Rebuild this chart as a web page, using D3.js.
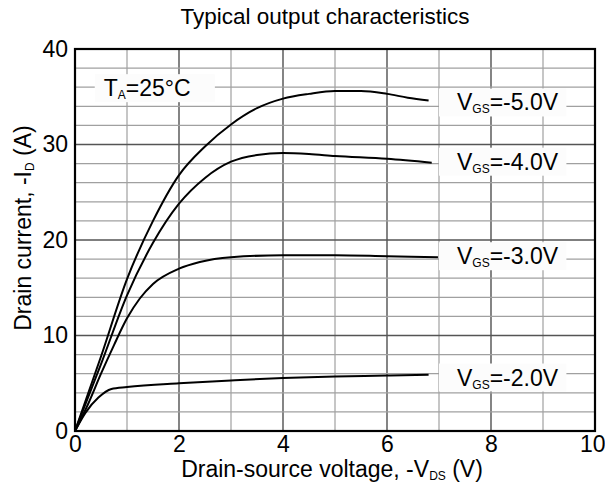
<!DOCTYPE html>
<html>
<head>
<meta charset="utf-8">
<script src="https://cdn.jsdelivr.net/npm/d3@7"></script>
<style>
  body { margin: 0; background: #fff; }
  svg { font-family: "Liberation Sans", Arial, sans-serif; }
</style>
</head>
<body>
<div class="App"></div>
<script>
// curve data, -VDS (V) vs -ID (A)
let vds5 = [0, 0.5, 1.0, 1.5, 2.0, 2.5, 3.0, 3.5, 4.0, 4.5, 5.0, 5.5, 6.0, 6.4, 6.8];
let id5  = [0, 7.8, 15.9, 22.0, 26.8, 29.8, 32.1, 33.8, 34.8, 35.3, 35.6, 35.6, 35.3, 34.9, 34.6];

let vds4 = [0, 0.5, 1.0, 1.5, 2.0, 2.5, 3.0, 3.5, 4.0, 4.5, 5.0, 6.0, 6.86];
let id4  = [0, 7.0, 14.2, 19.7, 23.8, 26.5, 28.2, 28.9, 29.1, 29.0, 28.8, 28.5, 28.1];

let vds3 = [0, 0.25, 0.5, 0.75, 1.0, 1.25, 1.5, 2.0, 2.4, 3.0, 4.0, 5.0, 6.0, 6.98];
let id3  = [0, 2.8, 6.0, 9.0, 11.8, 13.9, 15.4, 17.0, 17.7, 18.2, 18.4, 18.4, 18.3, 18.2];

let vds2 = [0, 0.2, 0.45, 0.7, 1.0, 2.0, 3.0, 4.0, 5.0, 6.0, 6.8];
let id2  = [0, 1.9, 3.5, 4.4, 4.6, 5.0, 5.3, 5.55, 5.7, 5.8, 5.9];

let seriesNames = ["-5.0V", "-4.0V", "-3.0V", "-2.0V"];
let xTicks = [0, 2, 4, 6, 8, 10];
let yTicks = [0, 10, 20, 30, 40];

let width = 605, height = 488;
let margin = { left: 75, top: 49, right: 10, bottom: 57 };
let w = width - margin.left - margin.right,
    h = height - margin.top - margin.bottom;

let svg = d3.select(".App").append("svg")
  .attr("width", width)
  .attr("height", height);

let g = svg.append("g")
  .attr("transform", "translate(" + margin.left + "," + margin.top + ")");

let x = d3.scaleLinear().domain([0, 10]).range([0, w]);
let y = d3.scaleLinear().domain([0, 40]).range([h, 0]);

// grid
g.selectAll(".vgrid")
  .data(d3.range(1, 10))
  .enter().append("line")
  .attr("x1", d => x(d)).attr("x2", d => x(d))
  .attr("y1", 0).attr("y2", h)
  .attr("stroke", d => d % 2 === 0 ? "#333" : "#a0a0a0")
  .attr("stroke-width", 1.2);

g.selectAll(".hgrid")
  .data(d3.range(2, 40, 2))
  .enter().append("line")
  .attr("x1", 0).attr("x2", w)
  .attr("y1", d => y(d)).attr("y2", d => y(d))
  .attr("stroke", d => d % 10 === 0 ? "#555" : "#a0a0a0")
  .attr("stroke-width", d => d % 10 === 0 ? 1.6 : 1.2);

// label boxes (drawn over the grid)
let boxes = [
  { name: "TA", v: 0.38, i: 35.9, len: 2.31 },
  { name: seriesNames[0], v: 7.0, i: 34.4, len: 2.45 },
  { name: seriesNames[1], v: 7.0, i: 28.2, len: 2.45 },
  { name: seriesNames[2], v: 7.0, i: 18.3, len: 2.45 },
  { name: seriesNames[3], v: 7.0, i: 5.6, len: 2.45 }
];
g.selectAll(".lblbox")
  .data(boxes)
  .enter().append("rect")
  .attr("x", d => x(d.v))
  .attr("y", d => y(d.i) - 14)
  .attr("width", d => x(d.len))
  .attr("height", 28)
  .attr("fill", "#fcfcfc");

// curves
let allSeries = [
  d3.zip(vds5, id5),
  d3.zip(vds4, id4),
  d3.zip(vds3, id3),
  d3.zip(vds2, id2)
];

let line = d3.line()
  .x(d => x(d[0]))
  .y(d => y(d[1]))
  .curve(d3.curveMonotoneX);

g.selectAll(".curve")
  .data(allSeries)
  .enter().append("path")
  .attr("d", line)
  .attr("fill", "none")
  .attr("stroke", "#000")
  .attr("stroke-width", 2);

// frame
g.append("rect")
  .attr("width", w).attr("height", h)
  .attr("fill", "none")
  .attr("stroke", "#000")
  .attr("stroke-width", 2.2);

// axes tick labels
let xAxis = d3.axisBottom(x).tickValues(xTicks).tickSize(0).tickPadding(5);
let yAxis = d3.axisLeft(y).tickValues(yTicks).tickSize(0).tickPadding(7);

let gx = g.append("g").attr("transform", "translate(0," + h + ")").call(xAxis);
let gy = g.append("g").call(yAxis);
[gx, gy].forEach(a => {
  a.select(".domain").remove();
  a.selectAll("text")
    .attr("font-size", 23)
    .attr("font-family", "Liberation Sans, Arial, sans-serif")
    .attr("fill", "#000");
});
// keep the last x label inside the page
gx.selectAll("text").filter(d => d === 10).attr("text-anchor", "end").attr("dx", 10);

// series labels
boxes.slice(1).forEach(d => {
  let t = g.append("text")
    .attr("x", x(d.v) + 18)
    .attr("y", y(d.i) + 8)
    .attr("font-size", 23)
    .attr("fill", "#000");
  t.append("tspan").text("V");
  t.append("tspan").attr("font-size", 12).attr("dy", 3).text("GS");
  t.append("tspan").attr("dy", -3).text("=" + d.name);
});

let ta = g.append("text")
  .attr("x", x(0.38) + 9)
  .attr("y", y(35.9) + 8)
  .attr("font-size", 23)
  .attr("fill", "#000");
ta.append("tspan").text("T");
ta.append("tspan").attr("font-size", 12).attr("dy", 3).text("A");
ta.append("tspan").attr("dy", -3).text("=25°C");

// title
svg.append("text")
  .attr("x", 325).attr("y", 24)
  .attr("text-anchor", "middle")
  .attr("font-size", 22.5)
  .text("Typical output characteristics");

// x title
let xt = svg.append("text")
  .attr("x", margin.left + w / 2 - 3).attr("y", 477)
  .attr("text-anchor", "middle")
  .attr("font-size", 23);
xt.append("tspan").text("Drain-source voltage, -V");
xt.append("tspan").attr("font-size", 12).attr("dy", 3).text("DS");
xt.append("tspan").attr("dy", -3).text(" (V)");

// y title
let yt = svg.append("text")
  .attr("transform", "translate(31,228) rotate(-90)")
  .attr("text-anchor", "middle")
  .attr("font-size", 23);
yt.append("tspan").text("Drain current, -I");
yt.append("tspan").attr("font-size", 12).attr("dy", 3).text("D");
yt.append("tspan").attr("dy", -3).text(" (A)");
</script>
</body>
</html>
